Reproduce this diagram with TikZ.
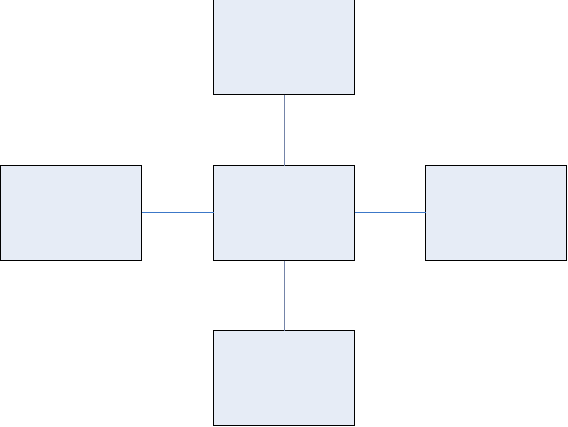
\documentclass[tikz,border=0pt]{standalone}
\begin{document}
\begin{tikzpicture}[x=1bp,y=-1bp,
  box/.style={draw=black,fill=boxfill,line width=1bp,rectangle,inner sep=0pt,minimum width=141bp,minimum height=95bp,outer sep=0pt},
  vline/.style={draw=vcol,line width=1bp},
  hline/.style={draw=hcol,line width=1bp}]
\definecolor{boxfill}{HTML}{E6ECF6}
\definecolor{vcol}{HTML}{7484A8}
\definecolor{hcol}{HTML}{3C78C8}
\useasboundingbox[fill=white] (0,0) rectangle (568,426);
\node[box] (top) at (284,47) {};
\node[box] (mid) at (284,213) {};
\node[box] (left) at (71,213) {};
\node[box] (right) at (496,213) {};
\node[box] (bot) at (284,378) {};
\draw[vline] (top.south) -- (mid.north);
\draw[vline] (mid.south) -- (bot.north);
\draw[hline] ([yshift=0.5bp]left.east) -- ([yshift=0.5bp]mid.west);
\draw[hline] ([yshift=0.5bp]mid.east) -- ([yshift=0.5bp]right.west);
\end{tikzpicture}
\end{document}
